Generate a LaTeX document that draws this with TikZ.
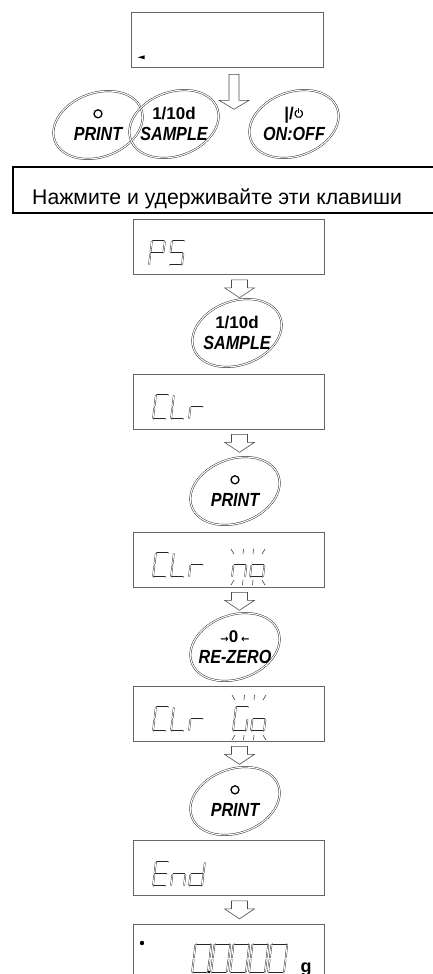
\documentclass[tikz,border=0pt]{standalone}
\usepackage{fontspec}
\setmainfont{Liberation Sans}
\newfontfamily\keyfont[FakeStretch=0.85]{Liberation Sans}
\newfontfamily\symfont{DejaVu Sans}
\usepackage{tikz}
\usetikzlibrary{positioning,calc}
\tikzset{
  lcd/.style={draw=black!60, line width=0.6pt, minimum width=191pt, minimum height=55pt, inner sep=0pt},
  segline/.style={draw=black!85, double=white, double distance=0.9pt, line width=0.4pt, line cap=round},
  keyring/.style={draw=black!85, double=white, double distance=1.1pt, line width=0.45pt},
  keytext/.style={font=\fontsize{17}{21}\selectfont\bfseries, align=center, inner sep=0pt},
  blinkline/.style={draw=black!75, line width=0.6pt},
  arrowline/.style={draw=black!70, line width=0.6pt, fill=white},
  hinttext/.style={font=\fontsize{21.2}{25}\selectfont, inner sep=0pt},
  smallarrow/.pic={\draw[arrowline] (-8,0) -- (8,0) -- (8,8) -- (15,8) -- (0,18) -- (-15,8) -- (-8,8) -- cycle;},
  bigarrow/.pic={\draw[arrowline] (-5,0) -- (5,0) -- (5,26) -- (15,26) -- (0,35) -- (-15,26) -- (-5,26) -- cycle;}
}
% seven segment cells: a b c d e f g as x1/y1/x2/y2
\def\sgP{1/24/12/24, 13/23/13/13, 0/13/0/23, 0/1/0/11, 1/12/12/12}
\def\sgS{1/24/12/24, 0/13/0/23, 1/12/12/12, 13/11/13/1, 1/0/12/0}
\def\sgC{1/24/12/24, 0/13/0/23, 0/1/0/11, 1/0/12/0}
\def\sgL{0/13/0/23, 0/1/0/11, 1/0/12/0}
\def\sgr{0/1/0/11, 1/12/12/12}
\def\sgn{0/1/0/11, 1/12/12/12, 13/11/13/1}
\def\sgo{0/1/0/11, 1/12/12/12, 13/11/13/1, 1/0/12/0}
\def\sgG{1/24/12/24, 0/13/0/23, 0/1/0/11, 1/0/12/0, 13/11/13/1}
\def\sgE{1/24/12/24, 0/13/0/23, 1/12/12/12, 0/1/0/11, 1/0/12/0}
\def\sgd{13/23/13/13, 13/11/13/1, 1/0/12/0, 0/1/0/11, 1/12/12/12}
\def\sgO{1/24/12/24, 13/23/13/13, 13/11/13/1, 1/0/12/0, 0/1/0/11, 0/13/0/23}
\newcommand{\lcdchar}[4][1]{%
  \begin{scope}[shift={(#2,#3)}, scale=#1, xslant=0.12, yscale=-1]
    \foreach \xa/\ya/\xb/\yb in #4 {\draw[segline] (\xa,\ya) -- (\xb,\yb);}
  \end{scope}}
\newcommand{\keycap}[4]{%
  \node[keytext] (#1) at (#2) {#3\\{\keyfont\itshape\fontsize{19}{21}\selectfont #4}};
  \draw[keyring, rotate around={20:(#1.center)}] (#1.center) ellipse [x radius=46, y radius=32];}
\newcommand{\blinkmarks}[3]{%
  \draw[blinkline] (#1-2,#2) -- (#1+1,#2+5) (#1+10.5,#2) -- (#1+10,#2+5)
    (#1+20.5,#2) -- (#1+20,#2+5) (#1+32,#2) -- (#1+29,#2+5);
  \draw[blinkline] (#1+1,#3) -- (#1-2,#3+5) (#1+10,#3) -- (#1+9.5,#3+5)
    (#1+20,#3) -- (#1+19.5,#3+5) (#1+29,#3) -- (#1+32,#3+5);}
\newcommand{\printmark}{\tikz[baseline=0pt, x=1pt, y=1pt]{\draw[line width=1.3pt] (0,6) circle (4);}}
\newcommand{\powericon}{\tikz[baseline=0pt, x=1pt, y=1pt, line width=1.1pt]{\draw (1.6,9.5) arc (65:-245:3.8); \draw (0,6.5) -- (0,12);}}
\newcommand{\zeromark}{{\symfont\fontsize{10}{10}\selectfont →}0\,{\symfont\fontsize{10}{10}\selectfont ←}}

\begin{document}
\begin{tikzpicture}[x=1pt, y=-1pt]
  \clip (0,0) rectangle (433,974);
  %% power on
  \node[lcd, minimum width=192pt] (dTop) at (227,39.5) {};
  \fill ($(dTop.south west)+(7,-10)$) -- ++(7,-2) -- ++(0,4) -- cycle;
  \pic at ($(dTop.south)+(7,7)$) {bigarrow};
  \keycap{kPrintA}{98,125}{\printmark}{PRINT}
  \keycap{kSampleA}{174,124}{1/10d}{SAMPLE}
  \keycap{kOnOff}{294,124}{|/\powericon}{ON:OFF}
  \draw[line width=1.6pt] (13,167) rectangle (445,213);
  \node[hinttext, anchor=base west] (hint) at (32,204) {Нажмите и удерживайте эти клавиши};
  %% PS
  \node[lcd] (dPS) at (228.5,247) {};
  \lcdchar{149}{265}{\sgP}
  \lcdchar{169}{265}{\sgS}
  \pic at ($(dPS.south)+(11,5)$) {smallarrow};
  \keycap{kSample}{237,333}{1/10d}{SAMPLE}
  %% Clr
  \node[lcd] (dClr) at (228.5,401.5) {};
  \lcdchar{153}{419}{\sgC}
  \lcdchar{171}{419}{\sgL}
  \lcdchar{189}{419}{\sgr}
  \pic at ($(dClr.south)+(11,5)$) {smallarrow};
  \keycap{kPrint}{235,491}{\printmark}{PRINT}
  %% Clr no
  \node[lcd] (dNo) at (228.5,559.5) {};
  \lcdchar{153}{577}{\sgC}
  \lcdchar{171}{577}{\sgL}
  \lcdchar{189}{577}{\sgr}
  \lcdchar{232}{577}{\sgn}
  \lcdchar{250}{577}{\sgo}
  \blinkmarks{233}{549}{580}
  \pic at ($(dNo.south)+(11,5)$) {smallarrow};
  \keycap{kZero}{235,647}{\zeromark}{RE-ZERO}
  %% Clr Go
  \node[lcd] (dGo) at (228.5,713.5) {};
  \lcdchar{153}{731}{\sgC}
  \lcdchar{171}{731}{\sgL}
  \lcdchar{189}{731}{\sgr}
  \lcdchar{233}{731}{\sgG}
  \lcdchar{251}{731}{\sgo}
  \blinkmarks{234}{695}{735}
  \pic at ($(dGo.south)+(11,5)$) {smallarrow};
  \keycap{kPrintB}{235,801}{\printmark}{PRINT}
  %% End
  \node[lcd] (dEnd) at (228.5,868) {};
  \lcdchar{153}{886}{\sgE}
  \lcdchar{171}{886}{\sgn}
  \lcdchar{189}{886}{\sgd}
  \pic at ($(dEnd.south)+(11,5)$) {smallarrow};
  %% weighing mode
  \node[lcd] (dZero) at (228.5,951.5) {};
  \fill (142,943) circle (2.2);
  \foreach \x in {192,211,230,249,268} {\lcdchar[1.22]{\x}{973}{\sgO}}
  \fill (209,972) circle (1.3);
  \node[font=\fontsize{18}{18}\selectfont\bfseries, anchor=base, inner sep=0pt] (unitG) at (306,972) {g};
\end{tikzpicture}
\end{document}
